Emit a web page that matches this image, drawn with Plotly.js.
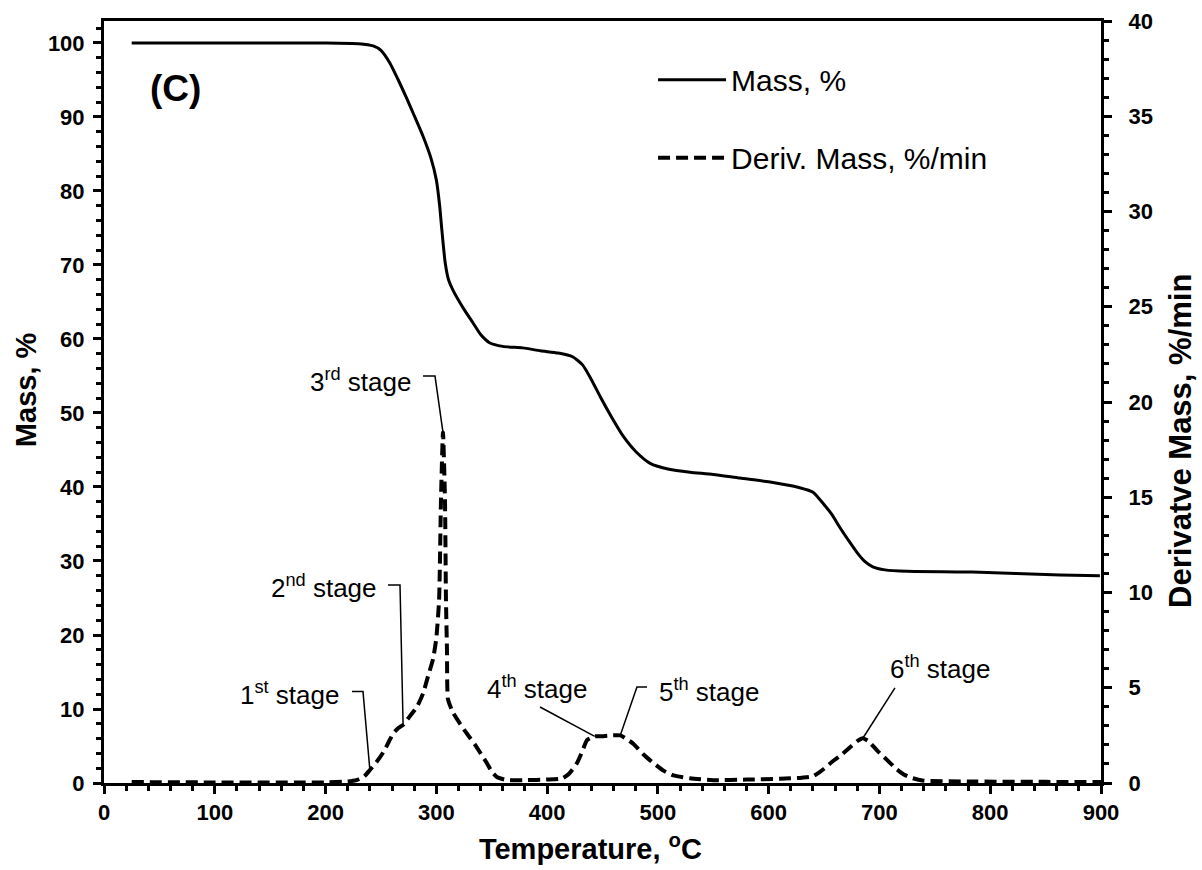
<!DOCTYPE html>
<html>
<head>
<meta charset="utf-8">
<script src="https://cdn.plot.ly/plotly-3.0.1.min.js"></script>
<style>
  html, body { margin: 0; padding: 0; background: #fff; }
  #chart { width: 1202px; height: 870px; }
</style>
</head>
<body>
<div id="chart"></div>
<script>
// ---- Data ----
const massTemp = [25, 200, 230, 243, 250, 258, 265, 273, 280, 288, 295, 300, 303, 305, 308, 311, 315, 325, 333, 340, 348, 360, 378, 394, 410, 423, 432, 440, 448, 458, 469, 480, 493, 510, 529, 550, 574, 600, 628, 640, 649, 657, 664, 672, 680, 687, 694, 705, 725, 784, 863, 899];
const massPct  = [100, 100, 99.9, 99.6, 99.0, 97.3, 95.2, 92.6, 90.2, 87.4, 84.5, 81.5, 78.0, 74.7, 70.3, 68.0, 66.6, 64.0, 62.2, 60.6, 59.5, 59.0, 58.8, 58.4, 58.1, 57.6, 56.5, 54.5, 52.2, 49.5, 46.8, 44.8, 43.2, 42.4, 42.0, 41.7, 41.2, 40.7, 39.9, 39.3, 37.8, 36.3, 34.6, 32.8, 31.1, 29.9, 29.2, 28.8, 28.6, 28.5, 28.1, 28.0];

const derivTemp = [25, 100, 200, 220, 228, 235, 240, 246, 252, 257, 261, 266, 270, 276, 282.5, 288, 292.5, 297, 300, 302.5, 304.2, 306, 307.8, 308.7, 309.6, 310.5, 315, 325, 335, 345, 350, 355, 364, 380, 400, 414, 420, 427, 432, 436, 443, 448, 458, 466, 472, 478, 487, 496, 505, 514, 529, 550, 580, 610, 630, 640, 650, 657, 664, 672, 680, 685, 690, 698, 707, 715, 722, 730, 740, 780, 850, 900];
const derivVal  = [0.05, 0.03, 0.03, 0.08, 0.15, 0.35, 0.68, 1.1, 1.6, 2.15, 2.6, 2.9, 3.05, 3.5, 4.0, 4.7, 5.6, 6.5, 7.6, 9.6, 14.9, 18.4, 14.9, 9.6, 7.0, 4.4, 3.7, 2.8, 2.0, 1.1, 0.6, 0.3, 0.15, 0.15, 0.18, 0.25, 0.5, 1.05, 1.7, 2.25, 2.45, 2.45, 2.5, 2.5, 2.3, 2.05, 1.5, 1.05, 0.65, 0.4, 0.25, 0.15, 0.18, 0.22, 0.28, 0.35, 0.75, 1.1, 1.4, 1.8, 2.2, 2.35, 2.2, 1.7, 1.2, 0.75, 0.45, 0.25, 0.12, 0.08, 0.06, 0.05];

const seriesNames = ["Mass, %", "Deriv. Mass, %/min"];
const xTitle = "Temperature, <sup>o</sup>C";
const yTitle = "Mass, %";
const y2Title = "Derivatve Mass, %/min";
const panelLabel = "(C)";

// stage labels and the temperature each one points at on the derivative curve
const stageLabels = ["1<sup>st</sup> stage", "2<sup>nd</sup> stage", "3<sup>rd</sup> stage", "4<sup>th</sup> stage", "5<sup>th</sup> stage", "6<sup>th</sup> stage"];
const stageTemps  = [240, 270, 306, 443, 466, 685];

// ---- helpers ----
function derivAt(t) {
  const i = derivTemp.indexOf(t);
  return derivVal[i];
}
function pad(n) { return "&nbsp;".repeat(n); }

const FONT = "Arial, 'Liberation Sans', Helvetica, sans-serif";

const traces = [
  {
    x: massTemp, y: massPct, name: seriesNames[0], type: "scatter", mode: "lines",
    line: {color: "#000", width: 3, shape: "spline", smoothing: 0.6},
    yaxis: "y", legendgroup: "a"
  },
  {
    x: derivTemp, y: derivVal, name: seriesNames[1], type: "scatter", mode: "lines",
    line: {color: "#000", width: 4, dash: "12px,6px", shape: "spline", smoothing: 0.5},
    yaxis: "y2", legendgroup: "b"
  }
];

// label placement (text anchor positions and leader geometry, in axis units)
const labelPos = [
  {x: 214, y: 4.72, xa: "right"},
  {x: 248.2, y: 10.29, xa: "right"},
  {x: 279, y: 21.15, xa: "right"},
  {x: 344, y: 4.99, xa: "left"},
  {x: 499, y: 4.88, xa: "left"},
  {x: 707.7, y: 6.04, xa: "left"}
];
const leaders = [
  [[223.9, 4.8], [233.8, 4.8]],
  [[256.4, 10.4], [267.2, 10.4]],
  [[288.0, 21.36], [298.8, 21.36]],
  [[393.6, 3.99]],
  [[490.2, 5.04], [481.1, 5.04]],
  [[714.0, 4.99]]
];

const annotations = [];
const shapes = [];
stageLabels.forEach((lab, i) => {
  annotations.push({
    x: labelPos[i].x, y: labelPos[i].y, xref: "x", yref: "y2",
    text: lab, showarrow: false, xanchor: labelPos[i].xa, yanchor: "middle",
    font: {family: FONT, size: 26, color: "#000"}
  });
  const pts = leaders[i].concat([[stageTemps[i], derivAt(stageTemps[i])]]);
  const path = pts.map((p, k) => (k === 0 ? "M" : "L") + p[0] + "," + p[1]).join(" ");
  shapes.push({type: "path", xref: "x", yref: "y2", path: path, line: {color: "#000", width: 1.5}});
});

annotations.push({
  x: 0.0722, y: 0.912, xref: "paper", yref: "paper", text: "<b>" + panelLabel + "</b>",
  showarrow: false, xanchor: "center", yanchor: "middle",
  font: {family: FONT, size: 37, color: "#000"}
});

const layout = {
  width: 1202, height: 870,
  margin: {l: 104, r: 101, t: 21, b: 87},
  paper_bgcolor: "#fff", plot_bgcolor: "#fff",
  font: {family: FONT, color: "#000"},
  showlegend: true,
  legend: {
    x: 0.5507, y: 0.957, xanchor: "left", yanchor: "top",
    font: {family: FONT, size: 30, color: "#000"},
    bgcolor: "rgba(0,0,0,0)", traceorder: "grouped", tracegroupgap: 36,
    itemwidth: 68
  },
  xaxis: {
    range: [0, 900], dtick: 100, tick0: 0,
    showgrid: false, zeroline: false,
    showline: true, linecolor: "#000", linewidth: 3, mirror: true,
    ticks: "outside", ticklen: 8, tickwidth: 3, tickcolor: "#000",
    minor: {dtick: 20, ticks: "outside", ticklen: 5, tickwidth: 3, tickcolor: "#000"},
    tickfont: {family: FONT, size: 22, color: "#000", weight: "bold"},
    title: {text: "<b>" + xTitle + pad(3) + "</b>", font: {family: FONT, size: 29, color: "#000"}, standoff: 15}
  },
  yaxis: {
    range: [0, 102.97], dtick: 10, tick0: 0,
    showgrid: false, zeroline: false,
    showline: true, linecolor: "#000", linewidth: 3,
    ticks: "outside", ticklen: 8, tickwidth: 3, tickcolor: "#000",
    minor: {dtick: 2, ticks: "outside", ticklen: 5, tickwidth: 3, tickcolor: "#000"},
    tickfont: {family: FONT, size: 22, color: "#000", weight: "bold"},
    ticklabelstandoff: 4,
    title: {text: "<b>" + pad(3) + yTitle + "</b>", font: {family: FONT, size: 29, color: "#000"}, standoff: 3}
  },
  yaxis2: {
    overlaying: "y", side: "right",
    range: [0, 40], dtick: 5, tick0: 0,
    showgrid: false, zeroline: false,
    showline: true, linecolor: "#000", linewidth: 3,
    ticks: "outside", ticklen: 8, tickwidth: 3, tickcolor: "#000",
    minor: {dtick: 1, ticks: "outside", ticklen: 5, tickwidth: 3, tickcolor: "#000"},
    tickfont: {family: FONT, size: 22, color: "#000", weight: "bold"},
    ticklabelstandoff: 12,
    title: {text: "<b>" + y2Title + pad(9) + "</b>", font: {family: FONT, size: 31, color: "#000"}, standoff: 18}
  },
  annotations: annotations,
  shapes: shapes
};

Plotly.newPlot("chart", traces, layout, {displayModeBar: false, staticPlot: true});
</script>
</body>
</html>
